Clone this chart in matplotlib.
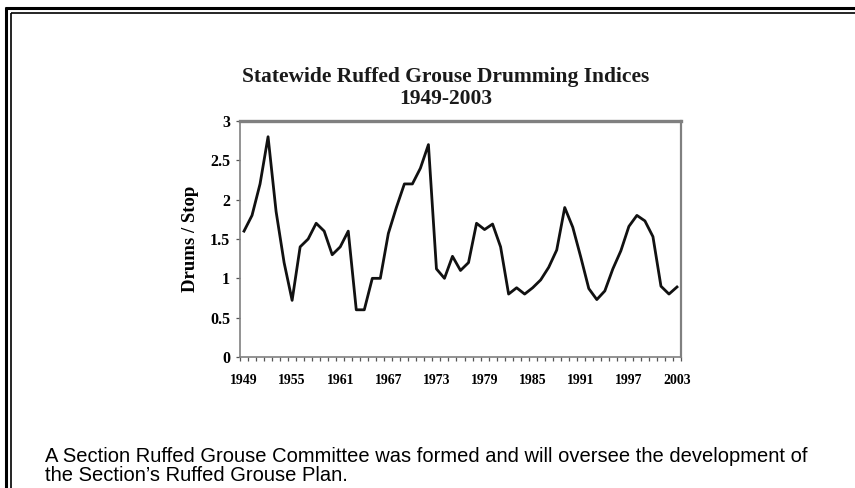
import matplotlib
matplotlib.use("Agg")
import matplotlib.pyplot as plt
from matplotlib.lines import Line2D
import numpy as np

# drumming index per year
years = list(range(1949, 2004))
drums = [1.6, 1.8, 2.2, 2.8, 1.85, 1.2, 0.72, 1.4, 1.5, 1.7,
         1.6, 1.3, 1.4, 1.6, 0.6, 0.6, 1.0, 1.0, 1.57, 1.9,
         2.2, 2.2, 2.4, 2.7, 1.12, 1.0, 1.28, 1.1, 1.2, 1.7,
         1.62, 1.69, 1.4, 0.8, 0.88, 0.8, 0.88, 0.98, 1.14, 1.36,
         1.9, 1.65, 1.27, 0.87, 0.73, 0.84, 1.12, 1.35, 1.66, 1.8,
         1.73, 1.53, 0.9, 0.8, 0.89]
label_years = list(range(1949, 2004, 6))
y_ticks = [0, 0.5, 1, 1.5, 2, 2.5, 3]
y_labels = ['0', '0.5', '1', '1.5', '2', '2.5', '3']

title = 'Statewide Ruffed Grouse Drumming Indices\n1949-2003'
ylabel = 'Drums / Stop'
caption = ('A Section Ruffed Grouse Committee was formed and will oversee the development of\n'
           'the Section\u2019s Ruffed Grouse Plan.')

W, H = 855, 488
fig = plt.figure(figsize=(W / 100, H / 100), dpi=100)
fig.patch.set_facecolor('white')

serif = 'Liberation Serif'
ax = fig.add_axes([240 / W, 1 - 357 / H, 441 / W, 236 / H])
ax.plot(years, drums, color='#111111', lw=2.0, solid_joinstyle='round')
ax.set_xlim(1948.5, 2003.5)
ax.set_ylim(0, 3)

ax.set_yticks(y_ticks)
ax.set_yticklabels(y_labels, fontfamily=serif, fontweight='bold', fontsize=11.5)
ax.set_xticks(label_years)
ax.set_xticklabels([str(y) for y in label_years], fontfamily=serif,
                   fontweight='bold', fontsize=10)
ax.set_xticks(np.arange(1948.5, 2004, 1), minor=True)
ax.tick_params(axis='x', which='major', length=0, pad=12)
ax.tick_params(axis='x', which='minor', length=3, width=0.9, color='#555555',
               direction='out')
ax.tick_params(axis='y', length=3, width=0.9, color='#555555', pad=4)

for side, lw in [('top', 2.4), ('right', 1.6), ('left', 1.2), ('bottom', 1.2)]:
    ax.spines[side].set_color('#808080')
    ax.spines[side].set_linewidth(lw)

ax.set_ylabel(ylabel, fontfamily=serif, fontweight='bold', fontsize=13.5,
              labelpad=8)

fig.text(446 / W, 1 - 88 / H, title, ha='center', va='center',
         fontfamily=serif, fontweight='bold', fontsize=15.5, linespacing=1.15,
         color='#1a1a1a')

fig.text(45 / W, 1 - 466 / H, caption, ha='left', va='center',
         fontfamily='Liberation Sans', fontsize=14.5, linespacing=1.03)

# double frame on left and top
def fline(xs, ys, lw):
    fig.add_artist(Line2D([x / W for x in xs], [1 - y / H for y in ys],
                          color='black', lw=lw, solid_capstyle='butt'))

fline([6, 6], [6.5, H], 2.2)
fline([4.5, W], [7.5, 7.5], 2.2)
fline([11, 11], [12.5, H], 1.2)
fline([10.5, W], [12.5, 12.5], 1.2)

fig.savefig('out.png', dpi=100)
